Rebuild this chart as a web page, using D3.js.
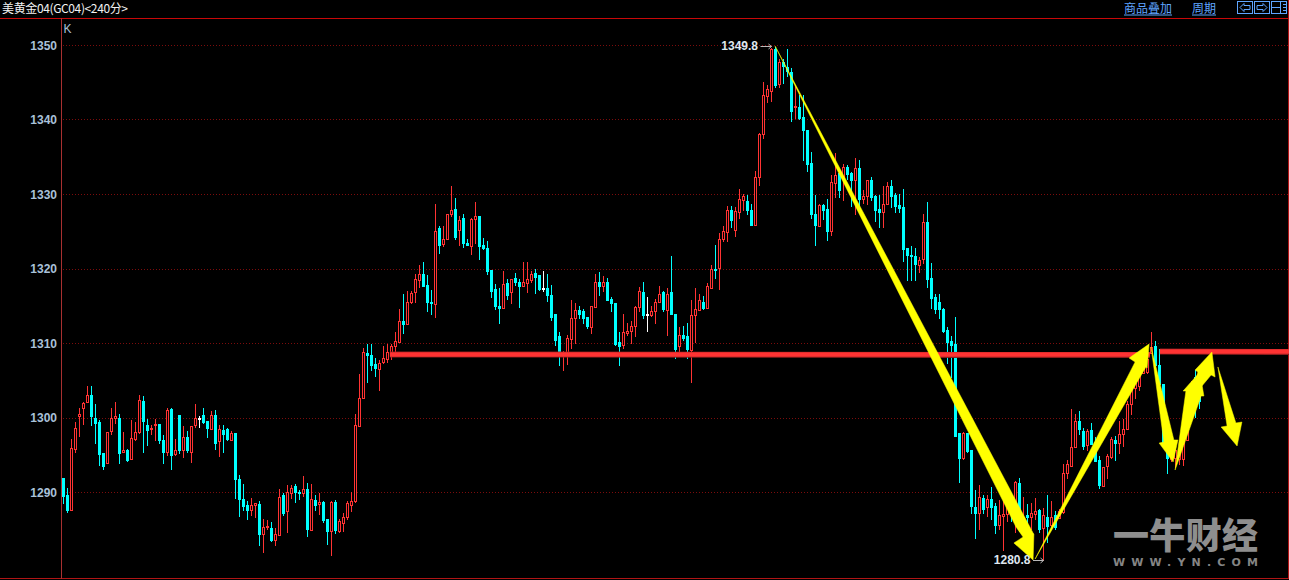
<!DOCTYPE html>
<html><head><meta charset="utf-8">
<script src="https://cdn.jsdelivr.net/npm/d3@7/dist/d3.min.js"></script>
<style>html,body{margin:0;padding:0;background:#000;overflow:hidden}svg{display:block}</style>
</head><body><svg id="c" width="1289" height="580"></svg>
<script>
const title = "美黄金04(GC04)<240分>";
const yTicks = [1290,1300,1310,1320,1330,1340,1350];
const highs = [
1291.9,1290.6,1297.2,1299.4,1301.3,1302.2,1304.3,1304.3,1301.9,1299.7,
1295.2,1298.1,1301.3,1302.1,1300.5,1298.1,1295.8,1299.7,1299.4,1303.1,
1302.9,1299.8,1299.1,1299.9,1299.1,1297.7,1301.3,1301.3,1297.2,1300.3,
1298.9,1298.3,1298.9,1301.9,1300.3,1301.3,1299.5,1301,1301.1,1299.1,
1299.1,1298.6,1298.2,1298,1292.3,1291.2,1288.8,1289.2,1288.6,1288.9,
1286.5,1286.3,1286,1285.3,1290.5,1290,1291,1291,1291.1,1290.4,
1292.2,1291.3,1291.2,1289.6,1290,1288.8,1286.5,1288.8,1289,1286.4,
1287.3,1288.8,1290.1,1300.5,1305.9,1309.4,1309.9,1309.9,1308,1307.8,
1309.6,1310,1310,1311.6,1314.6,1316.7,1317,1317.1,1319.3,1320.5,
1320.9,1319.2,1317.2,1328.7,1325.8,1325.8,1327.4,1331.1,1329.5,1327.1,
1327.4,1324,1326.8,1329,1327,1324.1,1323.8,1319.8,1318,1317.4,
1319.7,1318.6,1318.7,1319.5,1318.6,1321,1320.9,1319.7,1320,1319.1,
1319.7,1319.3,1317.8,1313.9,1311.6,1309,1311.1,1315.8,1315.4,1315.1,
1314.6,1313.5,1315.1,1319.3,1319.6,1319.1,1318.8,1316.2,1315.4,1311.6,
1313.9,1312.7,1313,1315.1,1317.6,1318.3,1316.2,1315,1316,1317.7,
1317,1317.4,1321.7,1314,1312.2,1312.3,1312.7,1315.8,1317.4,1316.6,
1316.4,1318.1,1320.5,1323.2,1324.8,1325.8,1328.5,1328.5,1328.3,1330.8,
1330.1,1329.9,1328.7,1333.2,1338.3,1345.1,1344.7,1349.7,1349.8,1348.2,
1348.2,1349.5,1347,1344.7,1343.3,1343.3,1338.6,1335.7,1329.9,1328.7,
1328.7,1329.4,1332.6,1335.6,1333.3,1334.1,1333.9,1333,1334.9,1334.6,
1330.6,1331.9,1332.4,1329.9,1329.9,1331.2,1331.7,1332,1330.2,1330.1,
1330.8,1322.8,1323.1,1322.8,1321.6,1327.4,1329,1320.8,1316.7,1316.6,
1314.7,1312.2,1311,1313.5,1297.9,1298.1,1297.9,1295.6,1290.4,1291,
1289.7,1289.6,1290.7,1288.6,1289,1289.9,1289.8,1289.6,1291.6,1291.9,
1289.4,1288.5,1288.6,1289.2,1287.8,1287.9,1289.6,1288.9,1287.5,1287.8,
1293.8,1294.3,1301.2,1300.5,1301,1298.7,1298.5,1299.3,1297.4,1294.9,
1293.4,1295.2,1297.4,1297.6,1299.6,1299.9,1302.3,1303.7,1305.5,1306.4,
1307.7,1308.2,1311.6,1310.3,1309.2,1304.6,1297.2,1296.2,1295.8,1295.8,
1297.2,1303.2,1305,1306.5,1303];
const bodyTops = [
1291.9,1289.6,1295.9,1298.6,1300.5,1301.9,1303,1303,1300,1299.4,
1295.2,1298.1,1299.9,1300.2,1300,1295.6,1295.7,1297.2,1298,1302.3,
1302.2,1299,1298.6,1299.1,1299.1,1297,1301,1301.1,1295.6,1300.3,
1297.4,1297.4,1298.9,1300,1300,1300.3,1299.5,1300.4,1300.4,1298.4,
1298.3,1298.4,1297.9,1297.9,1291.7,1289,1288.2,1288.2,1288.5,1288.4,
1285.3,1285.5,1285.2,1284.3,1289.3,1289.6,1290,1290.6,1290.8,1290,
1290.4,1290.4,1289,1288.9,1288.6,1288.7,1286.4,1288.6,1288.6,1286.1,
1286.7,1288.5,1288.8,1299,1302.6,1308.8,1308.6,1308.4,1307.2,1307.3,
1308,1308.8,1309.6,1310.3,1313,1313,1315.5,1316.7,1318.6,1319.3,
1319.3,1317.8,1315.5,1325.1,1325.4,1324,1327.3,1327.8,1328,1326.5,
1326.8,1323.4,1326.7,1327,1327,1323.2,1322.7,1319.8,1317.2,1315,
1317.9,1318.1,1318.6,1318.7,1318.2,1318.2,1318.6,1319.3,1319.4,1319.1,
1317.4,1317.4,1316.5,1313.9,1311,1308.8,1310.7,1313.4,1314.4,1314.4,
1314.3,1313.5,1315,1318.2,1318.2,1318.2,1318.2,1315.9,1315.4,1310.2,
1311.5,1311.6,1312.3,1314.8,1317,1316.9,1313.9,1314.3,1315.5,1316.6,
1316.8,1316.6,1316.8,1313.9,1311.1,1311.1,1310.9,1313.8,1314.6,1315.8,
1315.5,1317.6,1320,1320,1323.9,1325,1327.8,1327.8,1327.7,1329.3,
1329.7,1329,1327.9,1332.3,1338,1343.3,1344.1,1349.5,1349.5,1347.7,
1347.7,1347.1,1346.4,1341.8,1341.7,1340.3,1338.6,1334.1,1327.3,1328.5,
1328.5,1328,1331.6,1332.6,1332.8,1333.6,1333.6,1332.8,1333.5,1333.5,
1329.7,1331.9,1331.9,1329.7,1328,1328.7,1331.1,1331.1,1329.9,1328.5,
1328.2,1322.7,1321.8,1321.7,1321.2,1326.2,1326.2,1318.7,1316.2,1315.5,
1314.6,1311.7,1310.3,1309.9,1297.9,1297.9,1297.9,1295.6,1288,1289.3,
1289.2,1289,1289,1288.1,1286.9,1287.1,1289,1288.9,1291.3,1291.2,
1286.7,1286.9,1287.2,1287.5,1287.6,1286.9,1286.7,1286.6,1286.9,1287.5,
1292.6,1293.7,1296.1,1299.5,1299.5,1298.2,1298.2,1298.3,1296.7,1294.3,
1293.4,1294.8,1297.1,1297,1297.8,1298.5,1301.8,1303.9,1304.6,1305.9,
1307.3,1307.8,1309.5,1309.6,1307.1,1304.5,1296.7,1295.8,1295.6,1295.4,
1297,1303,1304.5,1305.5,1303];
const bodyBottoms = [
1289.5,1287.6,1287.6,1295.8,1300.2,1301.2,1302,1300.2,1299.3,1295.1,
1293.5,1293.9,1298.1,1299.9,1295.3,1295.3,1294.4,1294.4,1297.1,1298,
1299.5,1298.3,1298.4,1298.9,1296.9,1295.4,1295.4,1294.9,1295,1295.6,
1295.7,1295.6,1295.4,1299,1300,1299.4,1298.5,1298.5,1296.6,1296.8,
1297.8,1297,1297,1291.7,1289,1288,1287.5,1287.5,1288.2,1284.4,
1284.4,1285.4,1283.6,1283.5,1284.2,1287.2,1287.4,1289.9,1290,1289.8,
1289.8,1285,1284.9,1288.2,1288.3,1286.3,1284.8,1284.7,1284.8,1284.8,
1285.9,1286.6,1288.3,1288.8,1298.9,1302.6,1308.3,1307,1306.6,1306.5,
1307.4,1307.9,1308.2,1309.6,1310.2,1312.6,1312.6,1315.5,1316.9,1318.5,
1317.7,1315.5,1315.3,1315.3,1323.1,1323.3,1324,1327.2,1324.3,1325.1,
1323.4,1323.1,1323.1,1326.6,1323,1322.8,1319.6,1317,1314.9,1314.7,
1314.7,1316.5,1316.8,1318.1,1317.7,1317.7,1318.1,1318.5,1318.9,1317.2,
1317.4,1316.4,1313.5,1310.4,1308.7,1308.4,1308.8,1310.6,1313.3,1313.8,
1313.4,1312.3,1312.2,1314.9,1317.7,1317.7,1315.8,1315.3,1309.9,1309.7,
1309.7,1311.3,1311.6,1312.2,1314.9,1313.8,1313.9,1313.8,1314.3,1315.5,
1314.5,1314.5,1313.8,1309.2,1309.6,1310.7,1309.1,1309.1,1313.8,1314.5,
1314.7,1314.7,1317.5,1319.9,1320,1323.9,1324.9,1326.4,1325.2,1327.6,
1329.2,1327.8,1325.9,1325.9,1332.2,1338.1,1343.2,1343.9,1344.7,1344.7,
1347.1,1346.5,1341.2,1341.6,1340.2,1338.5,1334,1327.3,1325.8,1325.7,
1327.8,1325,1325,1331.5,1330.5,1332.3,1332.7,1331.9,1331.9,1329.3,
1329.3,1329.7,1329.6,1327.8,1327.6,1327.6,1328.7,1329.8,1328.4,1328.1,
1322.5,1321.7,1321.6,1320.6,1320.5,1321.3,1318.6,1316,1314.6,1314.5,
1311.7,1310.1,1309.8,1297.6,1294.5,1294.5,1295.5,1288.1,1287.2,1287.2,
1287.7,1287.9,1287.9,1285.6,1285.6,1286.8,1287,1287,1287.2,1286.6,
1286.1,1286.6,1286.6,1287.1,1285.1,1285.1,1285.5,1285.5,1285.3,1286.6,
1287.4,1292.5,1293.6,1296,1298.4,1296.2,1296.3,1296.4,1294.2,1290.9,
1290.9,1293.4,1294.7,1296.6,1296.6,1297.8,1298.4,1301.7,1303.9,1304.3,
1305.9,1306,1308.7,1307.1,1304.5,1296.7,1294.5,1294.5,1294.5,1294.5,
1294.5,1297,1302,1301.5,1302.2];
const lows = [
1288.4,1287.2,1287.5,1295.3,1297.4,1299.1,1302,1298.9,1296.5,1293.5,
1293.1,1293.9,1297.7,1299.1,1293.8,1295.3,1294.1,1294.4,1296.9,1297.9,
1295.3,1296.2,1297.8,1296.9,1296.6,1293.8,1294.8,1293,1294.9,1295.2,
1294.6,1295.4,1294,1298.7,1298.7,1299.2,1297.3,1298.5,1295.7,1294.8,
1295.4,1296.9,1296.8,1289.2,1286.7,1287.6,1286.3,1286.8,1286.6,1282.8,
1282,1285,1283.3,1282.9,1284.2,1286.9,1284.5,1289.1,1288.6,1289,
1289.4,1284,1284.9,1287.5,1287.1,1285.9,1283,1281.4,1284.5,1284.5,
1284.8,1286.3,1287.4,1288.5,1298.9,1302.5,1304.6,1306.3,1305.4,1303.7,
1307.2,1307.4,1307.9,1308.2,1310.2,1311.3,1312.5,1315.4,1315.4,1317.4,
1317.7,1314.2,1313.8,1313.4,1322.1,1323,1324,1327,1323.8,1323.1,
1322.9,1323,1321.9,1323.3,1321.2,1322.5,1319.2,1316.1,1314.5,1312.6,
1314.7,1315.8,1315.3,1317.7,1314.7,1317.6,1316.7,1318.1,1316.6,1317.1,
1316.9,1315.5,1313,1309.6,1307.1,1306.3,1307.1,1309.2,1309.9,1313.4,
1312.6,1311.9,1311.4,1314.9,1316.4,1316.9,1315.7,1314.2,1309.6,1307.1,
1309.2,1311,1309.9,1310.9,1314.2,1313.4,1311.5,1313.5,1312.7,1315.5,
1314.2,1311,1313.8,1308,1308.7,1310.3,1307.9,1304.7,1310,1314.4,
1314.5,1314.7,1317.4,1318.7,1317.2,1323.7,1323.7,1325.6,1324.3,1326.8,
1327.8,1327.2,1325.9,1325.9,1331.2,1337.4,1342.3,1342.4,1344.3,1344.3,
1344.9,1345.8,1339.7,1340.1,1340,1334.4,1333,1326.7,1323.1,1325.6,
1326.5,1323.7,1324.4,1329.6,1329.5,1329.2,1331.9,1328.3,1327.2,1327.6,
1328.7,1328.6,1329.2,1326.3,1325.5,1325.6,1328.7,1328.3,1327.5,1327.6,
1321,1318.4,1318.4,1318.4,1319.4,1320.7,1317.4,1314.6,1314,1313.3,
1311.4,1307.2,1305.4,1297.6,1291.3,1294.4,1295.3,1287.2,1283.8,1285,
1287.2,1286.7,1286.3,1284.4,1285,1282.1,1286,1286,1284.6,1284.6,
1284.2,1284.3,1285,1286.3,1284.6,1280.8,1283.1,1285.1,1285,1286.4,
1287.1,1291.8,1293.4,1296,1297.8,1295.8,1295.6,1296.3,1294,1290.5,
1290.9,1291.9,1294.5,1294.2,1295.2,1296.1,1298.4,1300.4,1302.6,1303.6,
1305.9,1305.9,1308.6,1305.7,1304.4,1296.7,1292.5,1294,1293.2,1293.6,
1293.6,1297,1301,1300,1301.2];
// r = up (hollow red), c = down (solid cyan), w = flat (white)
const tones = (
"ccrrrrrccc"+"crrrcrcrrr"+"ccrrccrcrc"+"rcrrwccrcr"+"ccrccccrrc"+
"rrcrrcrrcc"+"rcrcrccrcr"+"rrrrrrcccr"+"rrrrrcrrrr"+"cccrcrrrcr"+
"ccrrcccccc"+"rcrccrrrcc"+"wccccrrrrc"+"ccrrcrcccc"+"rrrrrcwrrr"+
"crccrccrrr"+"crrcrrrcrr"+"rccrrrrrcr"+"cccrcccccr"+"ccrrcrccrc"+
"rrcccrrccc"+"ccccrrcccc"+"cccccrcccr"+"crccrrrcrc"+"rcrrcrcrcr"+
"rrrrccrccc"+"rrrcrrrrrr"+"rrrccccrrr"+"rrrcc").split("");

// support lines: [start index, end index, price]
const supportLines = [[81.6,271.6,1308.52],[274.1,306.4,1308.93]];
// hand-drawn arrows as [bar index, price] outlines: tail, neck, barb, tip, barb, neck
const arrowDrop = [[177.9,1349.93],[238.1,1285.4],[239.9,1284.03],[237.6,1283.22],[242.4,1280.94],[242.6,1284.43],[242.4,1284.56]];
const arrowRise = [[242.9,1281.07],[267.9,1307.52],[266.4,1308.05],[271.4,1309.93],[270.9,1306.71],[270.6,1306.85]];
const arrowPull = [[271.9,1309.53],[275.1,1296.78],[273.9,1296.64],[277.4,1294.09],[278.6,1297.05],[277.6,1297.05]];
const arrowBackA = [[277.9,1293.02],[280.6,1303.62],[279.9,1303.62],[284.1,1306.17],[285.1,1302.95],[284.4,1302.95]];
const arrowBackB = [[282.1,1302.68],[283.6,1306.17],[282.9,1306.44],[287.1,1308.86],[287.9,1305.5],[286.9,1305.77]];
const arrowNext = [[288.6,1306.85],[290.9,1298.93],[289.4,1298.79],[293.4,1296.24],[294.6,1299.46],[293.1,1299.33]];
const arrows = [arrowDrop,arrowRise,arrowPull,arrowBackA,arrowBackB,arrowNext];

const W=1289,H=580, BLUE="#5fa5ff", RED="#ff3333", CYAN="#00ffff", LBL="#a9c1d9";
const svg=d3.select("#c");
svg.append("rect").attr("width",W).attr("height",H).attr("fill","#000");
const x=d3.scaleLinear().domain([0,284]).range([63.5,1199.5]);
const y=d3.scaleLinear().domain([1290,1350]).range([492.5,45.5]);
const pxY=v=>Math.round(y(v)-0.5)+0.5;

// grid
svg.append("g").attr("shape-rendering","crispEdges").selectAll("line").data(yTicks).join("line")
  .attr("x1",63).attr("x2",W-1).attr("y1",d=>pxY(d)).attr("y2",d=>pxY(d))
  .attr("stroke","#7c0c0c").attr("stroke-dasharray","1 2");

// frame
svg.append("line").attr("x1",0).attr("x2",W).attr("y1",18.5).attr("y2",18.5).attr("stroke","#c80808");
svg.append("line").attr("x1",0).attr("x2",W).attr("y1",578.5).attr("y2",578.5).attr("stroke","#b01515");
svg.append("line").attr("x1",61.5).attr("x2",61.5).attr("y1",18).attr("y2",579).attr("stroke","#a83030");
svg.append("line").attr("x1",1288.5).attr("x2",1288.5).attr("y1",0).attr("y2",579).attr("stroke","#b01515");

// axis
const ax=svg.append("g").attr("transform","translate(61,0)")
  .call(d3.axisLeft(y).tickValues(yTicks).tickFormat(d3.format("d")).tickSize(0).tickPadding(4));
ax.select(".domain").remove();
ax.selectAll("text").attr("fill",LBL).attr("font-family","'Liberation Sans'").attr("font-size",12).attr("font-weight","bold");

// candles
const idx=d3.range(highs.length);
const col=i=>tones[i]==="r"?RED:tones[i]==="c"?CYAN:"#fff";
const g=svg.append("g").attr("shape-rendering","crispEdges");
g.selectAll("rect.wick").data(idx).join("rect").attr("class","wick")
  .attr("x",i=>x(i)-0.5).attr("width",1)
  .attr("y",i=>Math.round(y(highs[i])))
  .attr("height",i=>Math.max(1,Math.round(y(lows[i])-y(highs[i]))))
  .attr("fill",col);
g.selectAll("rect.body").data(idx).join("rect").attr("class","body")
  .attr("x",i=>tones[i]==="r"?x(i)-1:x(i)-1.5)
  .attr("width",i=>tones[i]==="r"?2:3)
  .attr("y",i=>tones[i]==="r"?pxY(bodyTops[i]):pxY(bodyTops[i])-0.5)
  .attr("height",i=>{const h=Math.max(1,Math.round(y(bodyBottoms[i])-y(bodyTops[i])));return tones[i]==="r"?h:h+1;})
  .attr("fill",i=>tones[i]==="r"?"#000":col(i))
  .attr("stroke",i=>tones[i]==="r"?RED:"none");

// support lines
const lg=svg.append("g");
lg.selectAll("line.under").data(supportLines).join("line").attr("class","under")
  .attr("x1",d=>x(d[0])).attr("x2",d=>x(d[1])).attr("y1",d=>y(d[2])).attr("y2",d=>y(d[2])+0.5)
  .attr("stroke","#8c1c1c").attr("stroke-width",6);
lg.selectAll("line.over").data(supportLines).join("line").attr("class","over")
  .attr("x1",d=>x(d[0])).attr("x2",d=>x(d[1])).attr("y1",d=>y(d[2])).attr("y2",d=>y(d[2]))
  .attr("stroke",RED).attr("stroke-width",4.5);

// arrows
const outline=d3.line().x(d=>x(d[0])).y(d=>y(d[1])).curve(d3.curveLinearClosed);
svg.append("g").selectAll("path").data(arrows).join("path")
  .attr("d",outline).attr("fill","#ffff00").attr("stroke","#ffff00").attr("stroke-width",0.5);

// extremes
const hiVal=d3.max(highs), loVal=d3.min(lows), hiI=highs.indexOf(hiVal), loI=lows.indexOf(loVal);
function extreme(v,endX,lenX,t){
  svg.append("text").attr("x",endX-lenX-2.5).attr("y",t+4).attr("text-anchor","end")
    .attr("font-family","'Liberation Sans'").attr("font-size",12).attr("font-weight","bold")
    .attr("fill","#dfe7ef").text(d3.format(".1f")(v));
  svg.append("line").attr("x1",endX-lenX).attr("x2",endX).attr("y1",t+0.5).attr("y2",t+0.5).attr("stroke","#b8b8b8");
  svg.append("path").attr("d",`M${endX-3},${t-2}L${endX},${t+0.5}L${endX-3},${t+3}`).attr("fill","none").attr("stroke","#b8b8b8");
}
extreme(hiVal,x(hiI)-4,11,pxY(hiVal)-0.5);
extreme(loVal,x(loI),10.5,560);

// header
svg.append("text").attr("x",2).attr("y",13).attr("font-family","'Noto Sans CJK SC'").attr("font-size",12).attr("fill","#f2f2f2")
  .attr("textLength",126).text(title);
svg.append("text").attr("x",63.5).attr("y",33).attr("font-family","'Liberation Sans'").attr("font-size",12).attr("fill",LBL).text("K");
[["商品叠加",1124,48],["周期",1192,24]].forEach(([t,px,w])=>{
  svg.append("text").attr("x",px).attr("y",13).attr("font-family","'Noto Sans CJK SC'").attr("font-size",12).attr("fill",BLUE).text(t);
  svg.append("line").attr("x1",px).attr("x2",px+w).attr("y1",15).attr("y2",15).attr("stroke",BLUE);
});
const btn=svg.append("g").attr("fill","none").attr("stroke",BLUE).attr("stroke-width",1);
[1237.5,1254.5,1271.5].forEach(b=>btn.append("rect").attr("x",b).attr("y",1.5).attr("width",15).attr("height",12));
btn.append("path").attr("d","M1240,7.5L1244,3.5V5.5H1250V9.5H1244V11.5Z");
btn.append("path").attr("d","M1267,7.5L1263,3.5V5.5H1257V9.5H1263V11.5Z");
btn.append("path").attr("d","M1280.5,2V13M1271.5,7.5H1280.5M1283,4.5H1286M1283,7.5H1286M1283,10.5H1286");

// watermark
svg.append("text").attr("x",1113).attr("y",549).attr("font-family","'Noto Sans CJK SC'").attr("font-weight",900)
  .attr("font-size",36).attr("fill","#8e8e8e").attr("textLength",145).text("一牛财经");
svg.append("text").attr("x",1113).attr("y",566).attr("font-family","'DejaVu Sans'").attr("font-weight","bold")
  .attr("font-size",11).attr("fill","#858585").attr("textLength",145).text("WWW.YN.COM");
</script></body></html>
